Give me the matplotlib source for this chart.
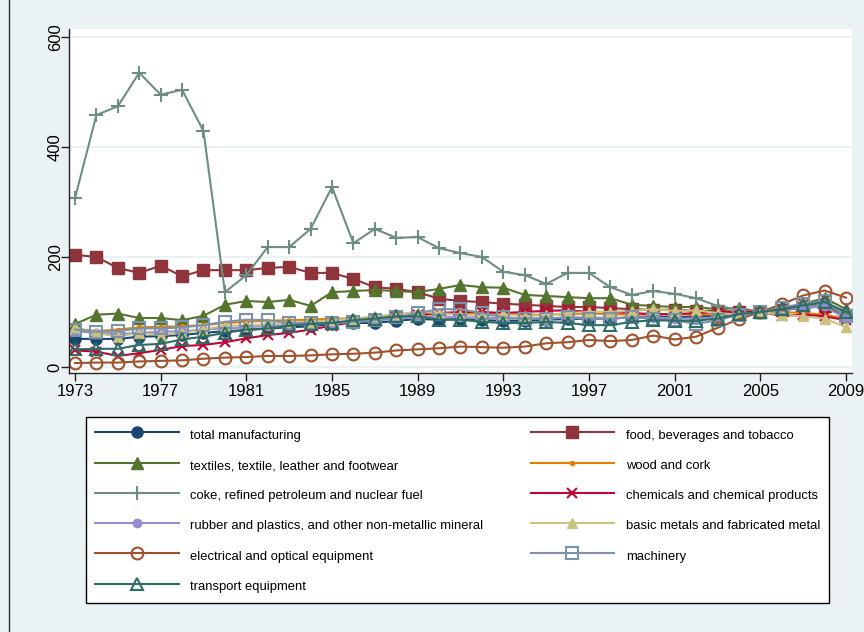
import matplotlib
matplotlib.use("Agg")
import matplotlib.pyplot as plt
from matplotlib.lines import Line2D

plt.rcParams['font.family'] = ['Liberation Sans', 'DejaVu Sans']

years = list(range(1973, 2010))

total_manufacturing = [51, 51, 51, 55, 56, 58, 62, 65, 67, 70, 72, 74, 78, 80, 80, 84, 87, 86, 87, 85,
                       84, 84, 86, 87, 88, 88, 90, 92, 90, 92, 93, 97, 100, 104, 108, 110, 95]
food = [204, 200, 180, 171, 184, 165, 176, 176, 176, 180, 182, 171, 171, 160, 145, 142, 136, 124, 120, 118,
        115, 113, 111, 109, 109, 107, 105, 104, 104, 102, 102, 100, 100, 103, 108, 110, 95]
textiles = [78, 95, 97, 89, 89, 85, 93, 113, 120, 118, 122, 111, 136, 138, 140, 138, 136, 142, 149, 145,
            144, 131, 129, 127, 125, 125, 113, 111, 109, 109, 105, 107, 100, 106, 115, 125, 105]
wood = [70, 65, 68, 72, 73, 74, 76, 80, 82, 84, 85, 86, 88, 88, 90, 92, 94, 96, 98, 97,
        96, 95, 95, 96, 97, 96, 95, 96, 95, 96, 95, 98, 100, 100, 98, 95, 88]
coke = [307, 458, 474, 535, 495, 504, 429, 136, 167, 218, 218, 251, 327, 225, 251, 235, 236, 216, 207, 200,
        173, 167, 151, 171, 171, 145, 131, 138, 133, 125, 111, 104, 100, 105, 110, 115, 95]
chemicals = [30, 28, 20, 25, 31, 38, 40, 45, 52, 58, 62, 68, 75, 82, 85, 90, 95, 98, 100, 100,
             98, 100, 102, 103, 100, 100, 98, 96, 96, 98, 100, 100, 100, 93, 95, 92, 85]
rubber = [65, 62, 60, 62, 64, 65, 68, 70, 72, 75, 76, 78, 80, 82, 84, 88, 90, 92, 90, 90,
          88, 88, 88, 90, 90, 89, 90, 90, 88, 88, 90, 95, 100, 105, 108, 110, 88]
basic_metals = [72, 62, 55, 62, 58, 62, 68, 75, 75, 78, 80, 82, 85, 88, 92, 96, 100, 98, 95, 92,
                96, 92, 95, 98, 100, 100, 102, 105, 102, 103, 98, 95, 100, 95, 92, 88, 72]
electrical = [7, 8, 8, 10, 11, 12, 15, 17, 18, 20, 20, 21, 23, 24, 26, 30, 32, 34, 37, 36,
              35, 37, 43, 45, 49, 47, 49, 57, 50, 55, 71, 87, 100, 114, 130, 139, 126]
machinery = [68, 64, 65, 70, 70, 72, 76, 82, 86, 85, 80, 80, 80, 82, 85, 90, 98, 105, 105, 98,
             90, 88, 88, 90, 88, 88, 90, 88, 85, 78, 85, 95, 100, 108, 115, 120, 92]
transport = [32, 33, 33, 40, 42, 50, 55, 62, 68, 70, 75, 78, 80, 85, 88, 92, 92, 86, 86, 82,
             80, 80, 82, 80, 76, 76, 82, 85, 84, 84, 88, 96, 100, 105, 112, 118, 100]

labels = ["total manufacturing", "food, beverages and tobacco",
          "textiles, textile, leather and footwear", "wood and cork",
          "coke, refined petroleum and nuclear fuel", "chemicals and chemical products",
          "rubber and plastics, and other non-metallic mineral", "basic metals and fabricated metal",
          "electrical and optical equipment", "machinery", "transport equipment"]
xticks = [1973, 1977, 1981, 1985, 1989, 1993, 1997, 2001, 2005, 2009]
yticks = [0, 200, 400, 600]

series = [total_manufacturing, food, textiles, wood, coke, chemicals, rubber,
          basic_metals, electrical, machinery, transport]

styles = [
    dict(color='#1A476F', marker='o', ms=8, mfc='#1A476F', mec='#1A476F'),
    dict(color='#90353B', marker='s', ms=9, mfc='#90353B', mec='#90353B'),
    dict(color='#55752F', marker='^', ms=9, mfc='#55752F', mec='#55752F'),
    dict(color='#E37E00', marker='o', ms=3, mfc='#E37E00', mec='#E37E00'),
    dict(color='#6E8E84', marker='+', ms=10, mfc='#6E8E84', mec='#6E8E84', mew=1.5),
    dict(color='#C10534', marker='x', ms=7.5, mfc='#C10534', mec='#C10534', mew=1.5),
    dict(color='#938DD2', marker='o', ms=6, mfc='#938DD2', mec='#938DD2'),
    dict(color='#CAC27E', marker='^', ms=7, mfc='#CAC27E', mec='#CAC27E'),
    dict(color='#A0522D', marker='o', ms=8.5, mfc='none', mec='#A0522D', mew=1.5),
    dict(color='#7B92A8', marker='s', ms=8.5, mfc='none', mec='#7B92A8', mew=1.5),
    dict(color='#2D6D66', marker='^', ms=8.5, mfc='none', mec='#2D6D66', mew=1.5),
]

W, H = 864, 632
bg = '#EAF2F3'
fig = plt.figure(figsize=(W / 100, H / 100), dpi=100, facecolor=bg)

l, r, t, b = 69, 852, 29, 373
ax = fig.add_axes([l / W, 1 - b / H, (r - l) / W, (b - t) / H])
ax.set_facecolor('white')

handles = []
for data, st, lab in zip(series, styles, labels):
    h, = ax.plot(years, data, linewidth=1.5, label=lab, **st)
    handles.append(h)

ax.set_xlim(1972.72, 2009.28)
ax.set_ylim(-11, 614.5)
ax.set_xticks(xticks)
ax.set_yticks(yticks)
ax.set_yticklabels([str(v) for v in yticks], rotation=90, va='center')
ax.grid(axis='y', color=bg, linewidth=1.5)
ax.set_axisbelow(True)
for s in ['top', 'right']:
    ax.spines[s].set_visible(False)
for s in ['left', 'bottom']:
    ax.spines[s].set_color('#222222')
    ax.spines[s].set_linewidth(1.0)
ax.tick_params(axis='both', direction='out', length=6, width=1.0, color='#222222',
               labelsize=12, labelcolor='black')
ax.tick_params(axis='y', pad=-1.5)
ax.tick_params(axis='x', pad=2)

# Stata fills the legend row by row; matplotlib fills column by column
order = [0, 2, 4, 6, 8, 10, 1, 3, 5, 7, 9]
leg = fig.legend(handles=[handles[i] for i in order], labels=[labels[i] for i in order], ncol=2,
                 loc='upper left', bbox_to_anchor=(86 / W, 1 - 417 / H),
                 fontsize=9.4, frameon=True, fancybox=False, edgecolor='black', framealpha=1,
                 handlelength=6.4, handleheight=1.6, handletextpad=0.9, columnspacing=3.6,
                 labelspacing=1.03, borderpad=0.7, borderaxespad=0)
leg.get_frame().set_linewidth(1.0)
leg.get_frame().set_facecolor('white')

fig.add_artist(Line2D([9 / W, 9 / W], [0, 1], color='#333333', linewidth=1.0,
                      transform=fig.transFigure))

fig.savefig('out.png', dpi=100, facecolor=bg)
